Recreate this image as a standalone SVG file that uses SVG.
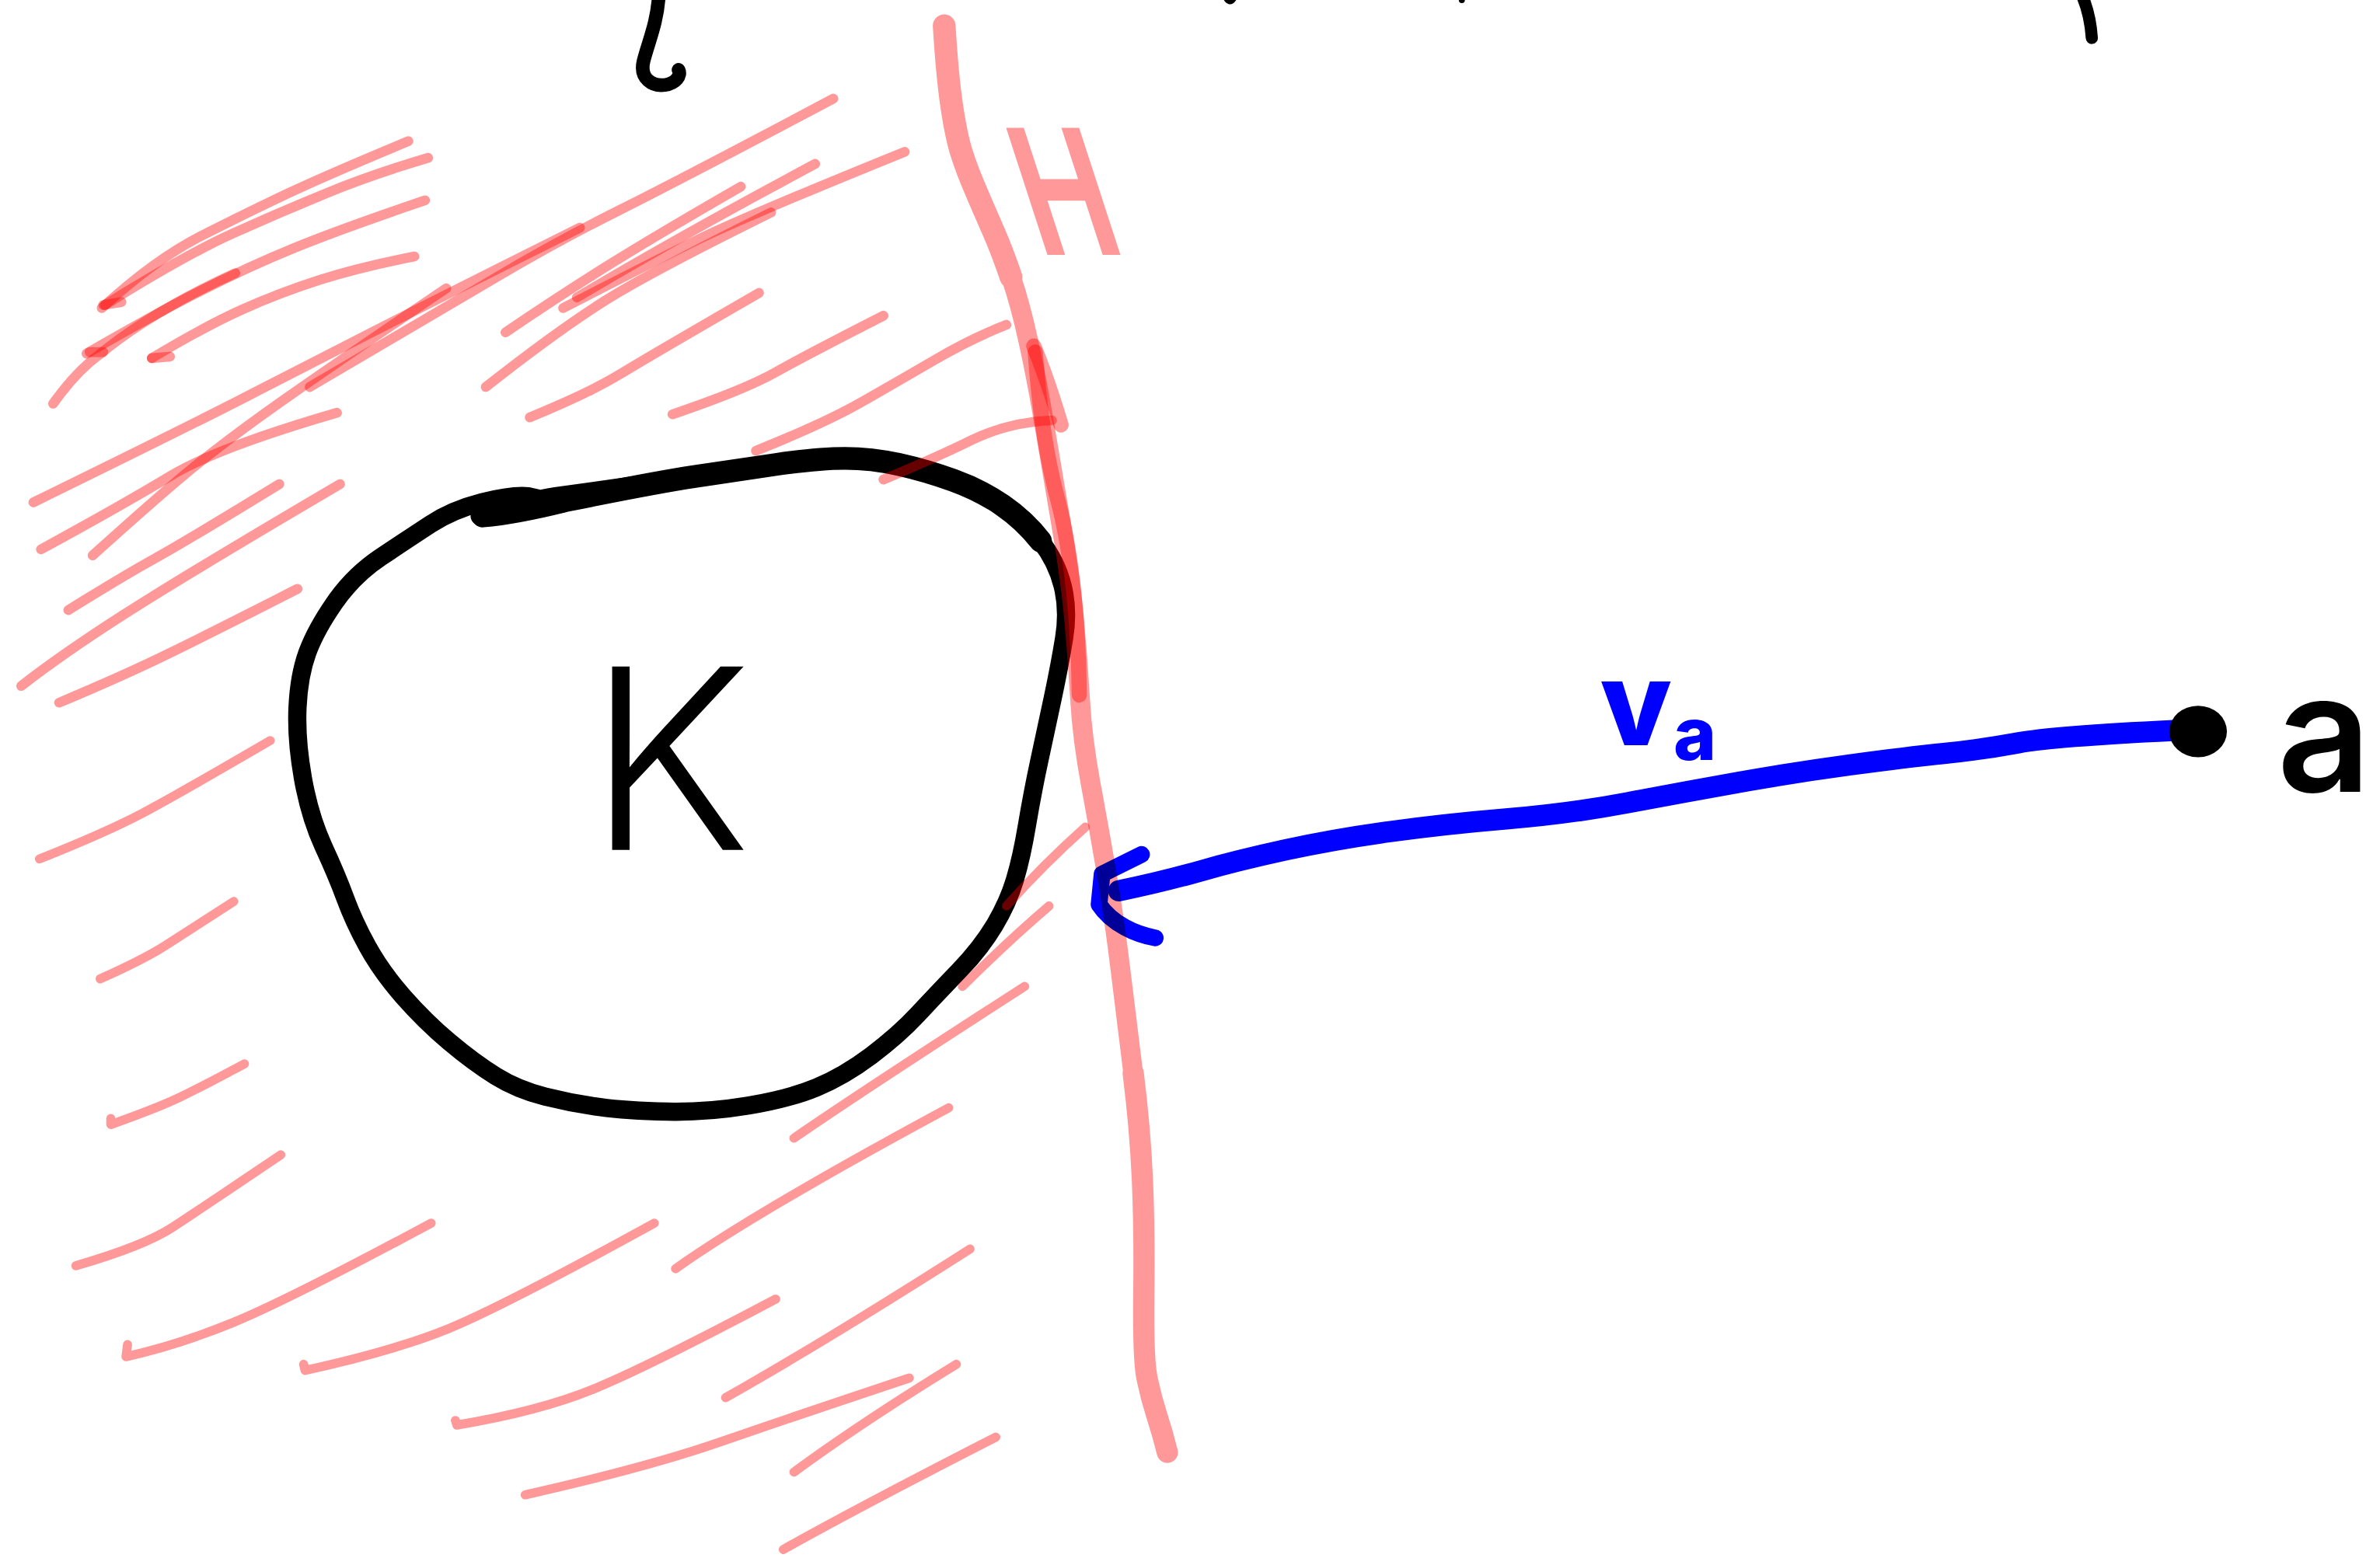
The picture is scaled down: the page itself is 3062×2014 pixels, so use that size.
<svg xmlns="http://www.w3.org/2000/svg" width="3062" height="2014" viewBox="0 0 3062 2014">
<style>
.hatch{fill:none;stroke:#ff0000;stroke-opacity:.4;stroke-width:6.5;stroke-linecap:round;stroke-linejoin:round}
.hatch2{fill:none;stroke:#ff0000;stroke-opacity:.4;stroke-width:6;stroke-linecap:round;stroke-linejoin:round}
.redline{fill:none;stroke:#ff0000;stroke-linecap:round;stroke-linejoin:round}
.ink{fill:none;stroke:#000;stroke-linecap:round;stroke-linejoin:round}
.blue{fill:none;stroke:#0000ff;stroke-linecap:round;stroke-linejoin:round;mix-blend-mode:multiply}
.lbl{font-family:Inter,Roboto,"Liberation Sans",sans-serif}
</style>
<rect width="3062" height="2014" fill="#fff"/>
<g transform="scale(1.953)">
  <g id="top-fragments">
    <path class="ink" stroke-width="9" d="M434,-3 C433,15 427,28 424,40 C421,52 430,57 438,56 C445,55 449,50 447,46"/>
    <path class="ink" stroke-width="5" d="M808,-2 Q810,2 812,-1"/>
    <circle cx="963" cy="0" r="2" fill="#000"/>
    <path class="ink" stroke-width="8" d="M1372,-2 Q1377,10 1378,25"/>
  </g>

  <g id="node-K">
    <path class="ink" stroke-width="12" d="M316,340 Q352,329 366,327 Q380,325 405.5,321.5 Q431,318 457.5,314 Q484,310 511.5,306 Q539,302 556.5,302 Q574,302 592,306 Q610,310 628,316.5 Q646,323 660.5,333 Q675,343 685.5,356.5 Q696,370 700,386 Q704,402 701,420.5 Q698,439 693.5,460 Q689,481 684.5,502 Q680,523 676.5,544 Q673,565 668.5,580 Q664,595 655,610 Q646,625 631.5,640 Q617,655 604.5,668.5 Q592,682 574,695.5 Q556,709 538,716.5 Q520,724 493,728.5 Q466,733 439.5,732.5 Q413,732 395,729.5 Q377,727 359,722.5 Q341,718 326.5,709 Q312,700 296,686.5 Q280,673 265.5,656.5 Q251,640 242,623.5 Q233,607 227.5,592 Q222,577 213,557.5 Q204,538 199.5,512.5 Q195,487 196,466 Q197,445 202.5,430 Q208,415 220.5,397 Q233,379 251,367 Q269,355 283.5,345.5 Q298,336 317.5,331 Q337,326 348,327 L370,332"/>
    <path class="ink" stroke-width="15" d="M318,340 Q340,338 372,330 Q431,318 457.5,314 Q484,310 511.5,306 Q539,302 556.5,302 Q574,302 592,306 Q610,310 628,316.5 Q646,323 660.5,333 Q675,343 685.5,356.5"/>
    <text class="lbl" x="441" y="560" font-size="166" font-weight="300" text-anchor="middle" fill="#000">K</text>
  </g>

  <g id="region-H">
    <g id="hatching">
      <path class="hatch" d="M67,203 Q102,171 132.5,155.5 Q163,140 189.5,127.5 Q216,115 269,93"/>
      <path class="hatch" d="M68,201 L80,199"/>
      <path class="hatch" d="M69,201 Q122,168 153,154 Q184,140 214.5,127.5 Q245,115 282,104"/>
      <path class="hatch" d="M57,233 Q102,207 132.5,191.5 Q163,176 193.5,163.5 Q224,151 280,132"/>
      <path class="hatch" d="M59,232 L68,232"/>
      <path class="hatch" d="M35,266 Q50,245 65,234 Q100,205 155,180"/>
      <path class="hatch" d="M100,236 Q135,215 159.5,204 Q184,193 210.5,184.5 Q237,176 273,169"/>
      <path class="hatch" d="M100,236 L112,235"/>
      <path class="hatch" d="M22,331 Q122,282 163,261 Q204,240 245,219 Q286,198 382,150"/>
      <path class="hatch" d="M204,255 Q286,207 326.5,183 Q367,159 408,138.5 Q449,118 549,65"/>
      <path class="hatch" d="M27,362 Q82,332 112.5,313.5 Q143,295 222,272"/>
      <path class="hatch" d="M61,366 Q102,329 122.5,312 Q143,295 173.5,273 Q204,251 294,190"/>
      <path class="hatch" d="M45,402 Q82,379 102,368 Q122,357 184,319"/>
      <path class="hatch" d="M14,452 Q41,431 81.5,405 Q122,379 224,319"/>
      <path class="hatch" d="M39,463 Q82,445 112.5,430 Q143,415 196,388"/>
      <path class="hatch" d="M333,219 Q367,196 398,176.5 Q429,157 488,123"/>
      <path class="hatch" d="M380,196 Q449,155 537,108"/>
      <path class="hatch" d="M371,203 Q429,173 459.5,158 Q490,143 596,100"/>
      <path class="hatch" d="M320,255 Q367,218 398,198.5 Q429,179 508,140"/>
      <path class="hatch" d="M349,275 Q388,259 408.5,246.5 Q429,234 500,193"/>
      <path class="hatch" d="M443,273 Q490,257 510.5,245.5 Q531,234 582,208"/>
      <path class="hatch" d="M498,297 Q543,279 567.5,265 Q592,251 616,237 Q640,223 663,214"/>
      <path class="hatch" d="M582,316 Q620,300 640,290 Q665,278 693,277"/>
      <path class="hatch2" d="M26,566 Q71,548 94.5,535.5 Q118,523 178,488"/>
      <path class="hatch2" d="M66,645 Q95,632 109,623 Q123,614 154,594"/>
      <path class="hatch2" d="M73,737 L73,741 Q104,730 118.5,723 Q133,716 161,701"/>
      <path class="hatch2" d="M50,834 Q95,821 114,808.5 Q133,796 185,761"/>
      <path class="hatch2" d="M84,886 L83,894 Q118,886 153.5,871.5 Q189,857 284,806"/>
      <path class="hatch2" d="M200,899 L201,903 Q260,890 295.5,875.5 Q331,861 431,806"/>
      <path class="hatch2" d="M300,936 L301,939 Q355,930 390.5,915.5 Q426,901 511,856"/>
      <path class="hatch2" d="M346,985 Q426,967 473.5,950.5 Q521,934 599,908"/>
      <path class="hatch2" d="M516,1021 Q568,992 656,947"/>
      <path class="hatch2" d="M523,970 Q568,937 630,899"/>
      <path class="hatch2" d="M478,921 Q545,883 639,823"/>
      <path class="hatch2" d="M445,836 Q497,799 625,730"/>
      <path class="hatch2" d="M523,750 Q568,719 675,650"/>
      <path class="hatch2" d="M634,650 Q663,621 691,597"/>
      <path class="hatch2" d="M663,597 Q687,570 715,545"/>
    </g>
    <g id="boundary" opacity=".4">
      <path class="redline" stroke-width="15" d="M622,17 Q624,50 627,70 Q630,90 633.5,101 Q637,112 643,126 Q649,140 654.5,152.5 Q660,165 666,182.5"/>
      <path class="redline" stroke-width="13" d="M666,182.5 Q672,200 677.5,225 Q683,250 688,280 Q693,310 699,345 Q705,380 707.5,407 Q710,434 711.5,460.5 Q713,487 718.5,516.5 Q724,546 729,575.5 Q734,605 738,638 Q742,671 746.5,707"/>
      <path class="redline" stroke-width="14" d="M746.5,707 Q751,743 752.5,776 Q754,809 753.5,852 Q753,895 755.5,907.5 Q758,920 762,932.5 Q766,945 769,957"/>
    </g>
    <g opacity=".4">
      <path class="redline" stroke-width="10" d="M681,228 Q690,250 699,280"/>
    </g>
    <g opacity=".4">
      <path class="redline" stroke-width="10" d="M682,232 Q686,290 697,330 Q710,380 711,458"/>
    </g>
    <text class="lbl" transform="translate(714,168) skewX(18) scale(0.68,1)" x="0" y="0" font-size="115" font-weight="700" text-anchor="middle" fill="#ff0000" fill-opacity=".4">H</text>
  </g>

  <g id="connectors">
    <g id="arrow-va">
      <path class="blue" stroke-width="14" d="M1440,481 Q1354,485 1329.5,489.5 Q1305,494 1280.5,496.5 Q1256,499 1219,504 Q1182,509 1145.5,515.5 Q1109,522 1072,529 Q1035,536 993.5,539.5 Q952,543 915.5,548 Q879,553 847,560 Q815,567 790.5,574 Q766,581 737,587"/>
      <path class="blue" stroke-width="11" d="M752,563 L736,571 L726,576 L724,596 Q730,605 741,611 Q750,616 761,618"/>
    </g>
    <text class="lbl" x="1054" y="491" font-size="77" font-weight="800" fill="#0000ff">v<tspan font-size="48" dx="1" dy="10">a</tspan></text>
  </g>

  <g id="node-a">
    <ellipse cx="1448" cy="482" rx="19" ry="17" fill="#000"/>
    <text class="lbl" x="1531" y="522" font-size="108" font-weight="600" text-anchor="middle" fill="#000">a</text>
  </g>
</g>
</svg>
